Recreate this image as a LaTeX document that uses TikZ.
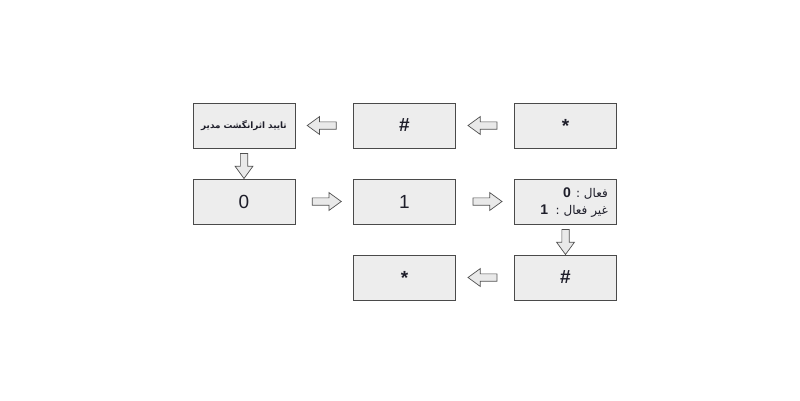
\documentclass[tikz,border=0pt]{standalone}
\usepackage{fontspec}
\setmainfont{Liberation Sans}
\newfontfamily\arabicfont[Script=Arabic]{DejaVu Sans}
\TeXXeTstate=1
\usetikzlibrary{shapes.arrows,calc}
\definecolor{boxfill}{HTML}{EDEDED}
\definecolor{boxline}{HTML}{4A4A4A}
\definecolor{arrfill}{HTML}{E9E9E9}
\definecolor{arrline}{HTML}{505050}
\definecolor{txt}{HTML}{1E1E2A}
\begin{document}
\begin{tikzpicture}[x=1pt,y=-1pt,
  stepbox/.style={draw=boxline,fill=boxfill,line width=0.9pt,minimum width=102pt,minimum height=45pt,inner sep=0pt,text=txt,font=\fontsize{19}{22}\selectfont},
  blockarr/.style={single arrow,draw=arrline,fill=arrfill,line width=0.7pt,inner sep=3.3pt,single arrow head extend=5.2pt,single arrow tip angle=72,minimum height=29pt},
  arrL/.style={blockarr,shape border rotate=180},
  arrR/.style={blockarr,shape border rotate=0},
  arrD/.style={blockarr,shape border rotate=270,minimum height=25pt}
]
\useasboundingbox (0,0) rectangle (800,400);
\node[stepbox] (a1) at (244,125.5) {\arabicfont\bfseries\fontsize{8.8}{10}\selectfont\beginR تایید اثرانگشت مدیر\endR};
\node[stepbox] (a2) at (404.5,125.5) {\bfseries\#};
\node[stepbox] (a3) at (565.5,125.5) {\bfseries *};
\node[stepbox] (b1) at (244,201.5) {0};
\node[stepbox] (b2) at (404.5,201.5) {1};
\node[stepbox] (b3) at (565.5,201.5) {};
\node[anchor=east,text=txt,inner sep=0pt] (b3t1) at (608,193.5) {\arabicfont\fontsize{12}{14}\selectfont\beginR فعال : {\rmfamily\bfseries\fontsize{14}{15}\selectfont 0}\endR};
\node[anchor=east,text=txt,inner sep=0pt] (b3t2) at (608,211) {\arabicfont\fontsize{12}{14}\selectfont\beginR غیر فعال :\ \ {\rmfamily\bfseries\fontsize{14}{15}\selectfont 1}\endR};
\node[stepbox] (c2) at (404.5,277.5) {\bfseries *};
\node[stepbox] (c3) at (565.5,277.5) {\bfseries\#};
% connectors
\node[arrL] (r1a) at ($(a3.west)!0.5!(a2.east)$) {};
\node[arrL] (r1b) at ($(a2.west)!0.5!(a1.east)$) {};
\node[arrD] (d1) at ($(a1.south)!0.5!(b1.north)$) {};
\node[arrR] (r2a) at ($(b1.east)!0.5!(b2.west)$) {};
\node[arrR] (r2b) at ($(b2.east)!0.5!(b3.west)$) {};
\node[arrD] (d2) at ($(b3.south)!0.5!(c3.north)$) {};
\node[arrL] (r3a) at ($(c3.west)!0.5!(c2.east)$) {};
\end{tikzpicture}
\end{document}
